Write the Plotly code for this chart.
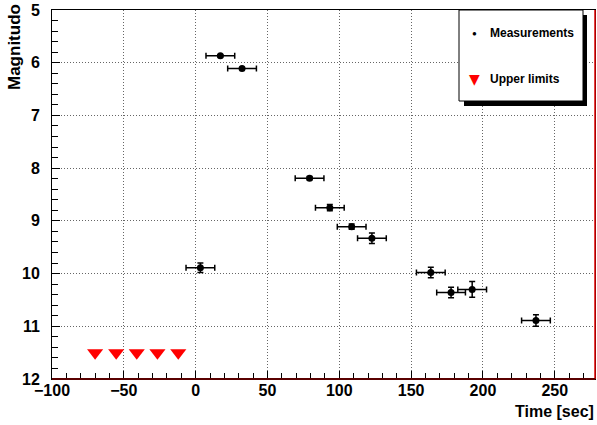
import plotly.graph_objects as go

# Measurements
meas_time = [17.2, 32.3, 3.3, 79.3, 93.4, 108.6, 122.7, 163.7, 177.8, 192.5, 236.9]
meas_mag = [5.87, 6.11, 9.89, 8.19, 8.75, 9.11, 9.33, 9.98, 10.36, 10.30, 10.89]
meas_terr = [10, 10, 10, 10, 10, 10, 10, 10, 10, 10, 10]
meas_magerr = [0.02, 0.02, 0.09, 0.03, 0.06, 0.05, 0.1, 0.1, 0.1, 0.15, 0.11]

# Upper limits
ul_time = [-70, -55.3, -41, -26.6, -12.1]
ul_mag = [11.5, 11.5, 11.5, 11.5, 11.5]

W, H = 597, 425
L, R, T, B = 52, 2, 10, 46
pw, ph = W - L - R, H - T - B

def px(x):
    return (x - L) / pw

def py(y):
    return (H - B - y) / ph

FONT = "Liberation Sans, Arial, Helvetica, sans-serif"

fig = go.Figure()
fig.add_trace(go.Scatter(
    x=meas_time, y=meas_mag, mode="markers",
    marker=dict(symbol="circle", size=7, color="black"),
    error_x=dict(type="data", array=meas_terr, color="black", thickness=1.5, width=3),
    error_y=dict(type="data", array=meas_magerr, color="black", thickness=1.5, width=3),
    showlegend=False,
))
fig.add_trace(go.Scatter(
    x=ul_time, y=ul_mag, mode="markers",
    marker=dict(symbol="triangle-down", size=14, color="#ff0000"),
    showlegend=False,
))

axis_common = dict(
    showline=True, linecolor="black", linewidth=1, mirror=True,
    ticks="inside", ticklen=8, tickcolor="black", tickwidth=1,
    showgrid=True, gridcolor="#666666", griddash="1px,2px", gridwidth=1,
    zeroline=False,
    tickfont=dict(family=FONT, size=16, color="black", weight="bold"),
)

fig.update_xaxes(
    range=[-100, 278], dtick=50, tick0=0,
    minor=dict(dtick=10, ticks="inside", ticklen=6, tickcolor="black", showgrid=False),
    ticklabelstandoff=-3,
    **axis_common,
)
fig.update_yaxes(
    range=[12, 5], dtick=1, tick0=5,
    minor=dict(dtick=0.2, ticks="inside", ticklen=6, tickcolor="black", showgrid=False),
    ticklabelstandoff=8,
    **axis_common,
)

shapes = [
    # right red frame edge
    dict(type="line", xref="paper", yref="paper", x0=1, x1=1, y0=0, y1=1,
         line=dict(color="#e00000", width=1.5)),
    # bottom dark red
    dict(type="line", xref="paper", yref="paper", x0=0, x1=1, y0=0, y1=0,
         line=dict(color="#5a0000", width=2)),
    # legend shadow
    dict(type="rect", xref="paper", yref="paper",
         x0=px(464), x1=px(587), y0=py(106), y1=py(15),
         fillcolor="black", line=dict(width=0), layer="above"),
    # legend box
    dict(type="rect", xref="paper", yref="paper",
         x0=px(459), x1=px(583), y0=py(101), y1=py(10),
         fillcolor="white", line=dict(color="black", width=1), layer="above"),
]

ann = [
    dict(text="Magnitudo", textangle=-90, xref="paper", yref="paper",
         x=px(14), y=py(2), xanchor="center", yanchor="top", showarrow=False,
         font=dict(family=FONT, size=17, color="black", weight="bold")),
    dict(text="Time [sec]", xref="paper", yref="paper",
         x=px(596), y=py(411), xanchor="right", yanchor="middle", showarrow=False,
         font=dict(family=FONT, size=16, color="black", weight="bold")),
    dict(text="●", xref="paper", yref="paper", x=px(474), y=py(33),
         xanchor="center", yanchor="middle", showarrow=False,
         font=dict(family=FONT, size=8, color="black")),
    dict(text="Measurements", xref="paper", yref="paper", x=px(488), y=py(33),
         xanchor="left", yanchor="middle", showarrow=False,
         font=dict(family=FONT, size=12, color="black", weight="bold")),
    dict(text="▼", xref="paper", yref="paper", x=px(474), y=py(79),
         xanchor="center", yanchor="middle", showarrow=False,
         font=dict(family="DejaVu Sans", size=14, color="#ff0000")),
    dict(text="Upper limits", xref="paper", yref="paper", x=px(488), y=py(79),
         xanchor="left", yanchor="middle", showarrow=False,
         font=dict(family=FONT, size=12, color="black", weight="bold")),
]

fig.update_layout(
    width=W, height=H,
    margin=dict(l=L, r=R, t=T, b=B, pad=0),
    paper_bgcolor="white", plot_bgcolor="white",
    shapes=shapes, annotations=ann,
    showlegend=False,
)

fig.write_html("out.html", config={"displayModeBar": False},
               post_script="document.body.style.margin='0';")
